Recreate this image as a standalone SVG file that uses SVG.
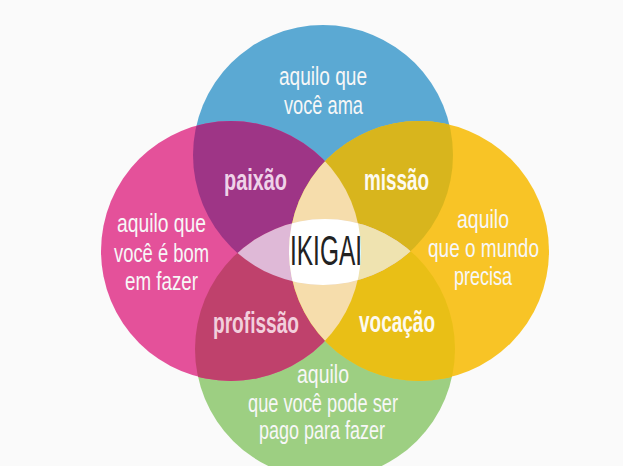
<svg xmlns="http://www.w3.org/2000/svg" width="623" height="466" viewBox="0 0 623 466">
<style>
.t{font-family:"Liberation Sans",Arial,sans-serif;font-size:25px;fill:#f7f7f7;}
.b{font-family:"Liberation Sans",Arial,sans-serif;font-size:30px;font-weight:bold;}
.ik{font-family:"Liberation Sans",Arial,sans-serif;font-size:42px;fill:#222222;}
</style>
<defs>
<circle id="cB" cx="323" cy="155" r="130"/>
<circle id="cP" cx="231" cy="251" r="130"/>
<circle id="cY" cx="419" cy="251" r="130"/>
<circle id="cG" cx="325" cy="349" r="130"/>
<clipPath id="kB"><use href="#cB"/></clipPath>
<clipPath id="kP"><use href="#cP"/></clipPath>
<clipPath id="kY"><use href="#cY"/></clipPath>
<clipPath id="kG"><use href="#cG"/></clipPath>
</defs>
<rect width="623" height="466" fill="#fafafa"/>
<g id="circles">
<use href="#cB" fill="#5ba9d3"/>
<use href="#cG" fill="#9dcf82"/>
<use href="#cP" fill="#e4519a"/>
<use href="#cY" fill="#f8c426"/>
</g>
<g id="overlaps">
<use href="#cP" fill="#9e3586" clip-path="url(#kB)"/>
<use href="#cY" fill="#d8b51d" clip-path="url(#kB)"/>
<use href="#cP" fill="#bf416c" clip-path="url(#kG)"/>
<use href="#cY" fill="#e9bf16" clip-path="url(#kG)"/>
<use href="#cP" fill="#f6ddac" clip-path="url(#kY)"/>
<use href="#cB" fill="#dfb9d7" clip-path="url(#kG)"/>
<g clip-path="url(#kG)"><use href="#cY" fill="#efe3b0" clip-path="url(#kB)"/></g>
<g clip-path="url(#kG)"><g clip-path="url(#kB)"><use href="#cP" fill="#ffffff" clip-path="url(#kY)"/></g></g>
</g>
<g id="node-ama">
<text class="t" x="279" y="85" textLength="88" lengthAdjust="spacingAndGlyphs">aquilo que</text>
<text class="t" x="284" y="114" textLength="79" lengthAdjust="spacingAndGlyphs">você ama</text>
</g>
<g id="node-bom">
<text class="t" x="117" y="232" textLength="89" lengthAdjust="spacingAndGlyphs">aquilo que</text>
<text class="t" x="114" y="262" textLength="95" lengthAdjust="spacingAndGlyphs">você é bom</text>
<text class="t" x="125" y="290" textLength="73" lengthAdjust="spacingAndGlyphs">em fazer</text>
</g>
<g id="node-mundo">
<text class="t" x="457" y="228" textLength="52" lengthAdjust="spacingAndGlyphs">aquilo</text>
<text class="t" x="428" y="257" textLength="111" lengthAdjust="spacingAndGlyphs">que o mundo</text>
<text class="t" x="454" y="285" textLength="58" lengthAdjust="spacingAndGlyphs">precisa</text>
</g>
<g id="node-pago">
<text class="t" x="297" y="383" textLength="52" lengthAdjust="spacingAndGlyphs">aquilo</text>
<text class="t" x="248" y="412" textLength="150" lengthAdjust="spacingAndGlyphs">que você pode ser</text>
<text class="t" x="259" y="439" textLength="126" lengthAdjust="spacingAndGlyphs">pago para fazer</text>
</g>
<g id="node-paixao"><text class="b" x="224" y="190" fill="#efd3e8" textLength="63" lengthAdjust="spacingAndGlyphs">paixão</text></g>
<g id="node-missao"><text class="b" x="364" y="190" fill="#fdfaf0" textLength="65" lengthAdjust="spacingAndGlyphs">missão</text></g>
<g id="node-profissao"><text class="b" x="213" y="333" fill="#f2cfdc" textLength="86" lengthAdjust="spacingAndGlyphs">profissão</text></g>
<g id="node-vocacao"><text class="b" x="359" y="332" fill="#fdfaf0" textLength="76" lengthAdjust="spacingAndGlyphs">vocação</text></g>
<g id="node-ikigai"><text class="ik" x="290" y="265" textLength="72" lengthAdjust="spacingAndGlyphs">IKIGAI</text></g>
<g id="connectors"/>
</svg>
